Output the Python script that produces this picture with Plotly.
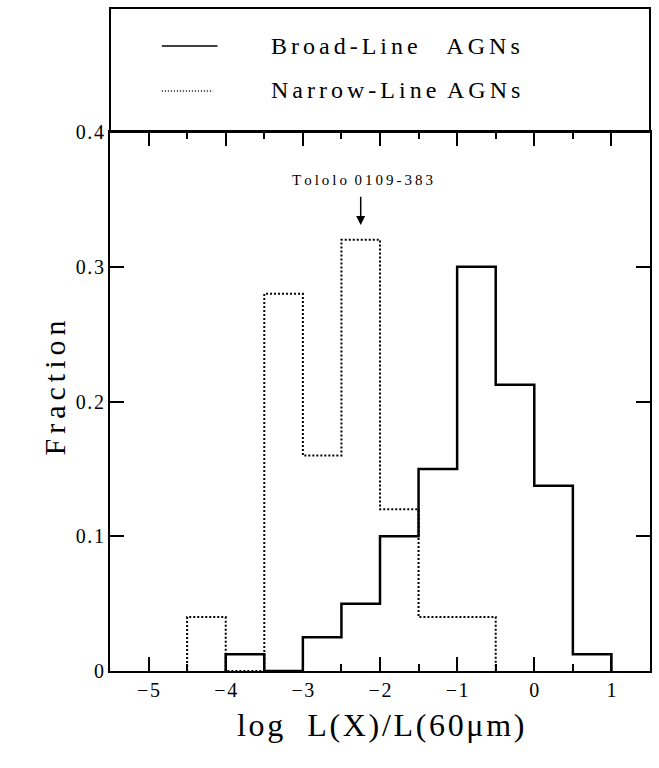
import plotly.graph_objects as go

# Histogram bin edges (log L(X)/L(60um)) and fractions per bin
broad_edges = [-4.0, -3.5, -3.0, -2.5, -2.0, -1.5, -1.0, -0.5, 0.0, 0.5, 1.0]
broad_frac = [0.0125, 0.0, 0.025, 0.05, 0.10, 0.15, 0.30, 0.2125, 0.1375, 0.0125]

narrow_edges = [-4.5, -4.0, -3.5, -3.0, -2.5, -2.0, -1.5, -1.0, -0.5]
narrow_frac = [0.04, 0.0, 0.28, 0.16, 0.32, 0.12, 0.04, 0.04]

x_ticks = [-5, -4, -3, -2, -1, 0, 1]
y_ticks = [0, 0.1, 0.2, 0.3, 0.4]

SERIF = "Liberation Serif, Times New Roman, serif"
THIN = "\u2009"
HAIR = "\u200a"


def spaced(s, sep=THIN):
    return sep.join(s)


def step_outline(edges, vals):
    """Closed step outline of a histogram, starting and ending on zero."""
    xs = [edges[0]] + list(edges[:-1]) + [edges[-1]]
    ys = [0.0] + list(vals) + [0.0]
    return xs, ys


fig = go.Figure()

bx, by = step_outline(broad_edges, broad_frac)
fig.add_trace(go.Scatter(x=bx, y=by, mode="lines", line_shape="hv",
                         line=dict(color="black", width=2.5),
                         name="Broad-Line AGNs", showlegend=False))

nx, ny = step_outline(narrow_edges, narrow_frac)
fig.add_trace(go.Scatter(x=nx, y=ny, mode="lines", line_shape="hv",
                         line=dict(color="black", width=2, dash="2px,2px"),
                         name="Narrow-Line AGNs", showlegend=False))

# Key box above the plotting frame
box_top = 1.23
fig.add_shape(type="rect", xref="paper", yref="paper", x0=0, x1=1, y0=1, y1=box_top,
              line=dict(color="black", width=2))
fig.add_shape(type="line", xref="paper", yref="paper", x0=0.096, x1=0.199,
              y0=1.1596, y1=1.1596, line=dict(color="black", width=1.5))
fig.add_shape(type="line", xref="paper", yref="paper", x0=0.096, x1=0.191,
              y0=1.076, y1=1.076, line=dict(color="black", width=1.5, dash="1px,2px"))

key_sep = HAIR + HAIR
annos = [
    dict(x=0.295, y=1.1596, text=spaced("Broad-Line", key_sep) + "     " + spaced("AGNs", key_sep),
         xanchor="left", yanchor="middle", font=dict(size=24)),
    dict(x=0.295, y=1.078, text=spaced("Narrow-Line", key_sep) + "  " + spaced("AGNs", key_sep),
         xanchor="left", yanchor="middle", font=dict(size=24)),
]
for a in annos:
    a.update(xref="paper", yref="paper", showarrow=False)
    a["font"].update(family=SERIF, color="black")
    fig.add_annotation(**a)

# Label and arrow marking Tololo 0109-383
fig.add_annotation(x=-2.23, y=0.3645, xref="x", yref="y", showarrow=False,
                   text=spaced("Tololo") + "  " + spaced("0109-383"),
                   font=dict(family=SERIF, size=15, color="black"))
fig.add_annotation(x=-2.25, y=0.331, xref="x", yref="y",
                   ax=-2.25, ay=0.353, axref="x", ayref="y",
                   text="", showarrow=True, arrowhead=2, arrowsize=1.2,
                   arrowwidth=1.5, arrowcolor="black")

# Axis titles
fig.add_annotation(x=0.5, y=-0.138, xref="paper", yref="paper", showarrow=False,
                   text=spaced("log", HAIR) + "   " + spaced("L(X)/L(60μm)", HAIR),
                   font=dict(family=SERIF, size=32, color="black"))
fig.add_annotation(x=-0.137, y=0.525, xref="paper", yref="paper", showarrow=False,
                   text=spaced("Fraction", HAIR + HAIR), textangle=-90,
                   font=dict(family=SERIF, size=30, color="black"))

axis_common = dict(showline=True, linecolor="black", linewidth=2, mirror="ticks",
                   ticks="inside", tickcolor="black", tickwidth=2, ticklen=14,
                   showgrid=False, zeroline=False,
                   tickfont=dict(family=SERIF, size=20, color="black"))

fig.update_xaxes(range=[-5.5, 1.5], tickvals=x_ticks,
                 ticktext=[spaced(("−" if v < 0 else "") + str(abs(v)), HAIR) for v in x_ticks],
                 minor=dict(dtick=0.5, tick0=0, ticks="inside", ticklen=7, tickwidth=2,
                            tickcolor="black", showgrid=False),
                 **axis_common)
fig.update_yaxes(range=[0, 0.4], tickvals=y_ticks,
                 ticktext=["0" if v == 0 else spaced(f"{v:.1f}", HAIR) for v in y_ticks],
                 **axis_common)

fig.update_layout(width=659, height=768, plot_bgcolor="white", paper_bgcolor="white",
                  margin=dict(l=110, r=7, t=132, b=97), showlegend=False)

fig.write_html("out.html")
